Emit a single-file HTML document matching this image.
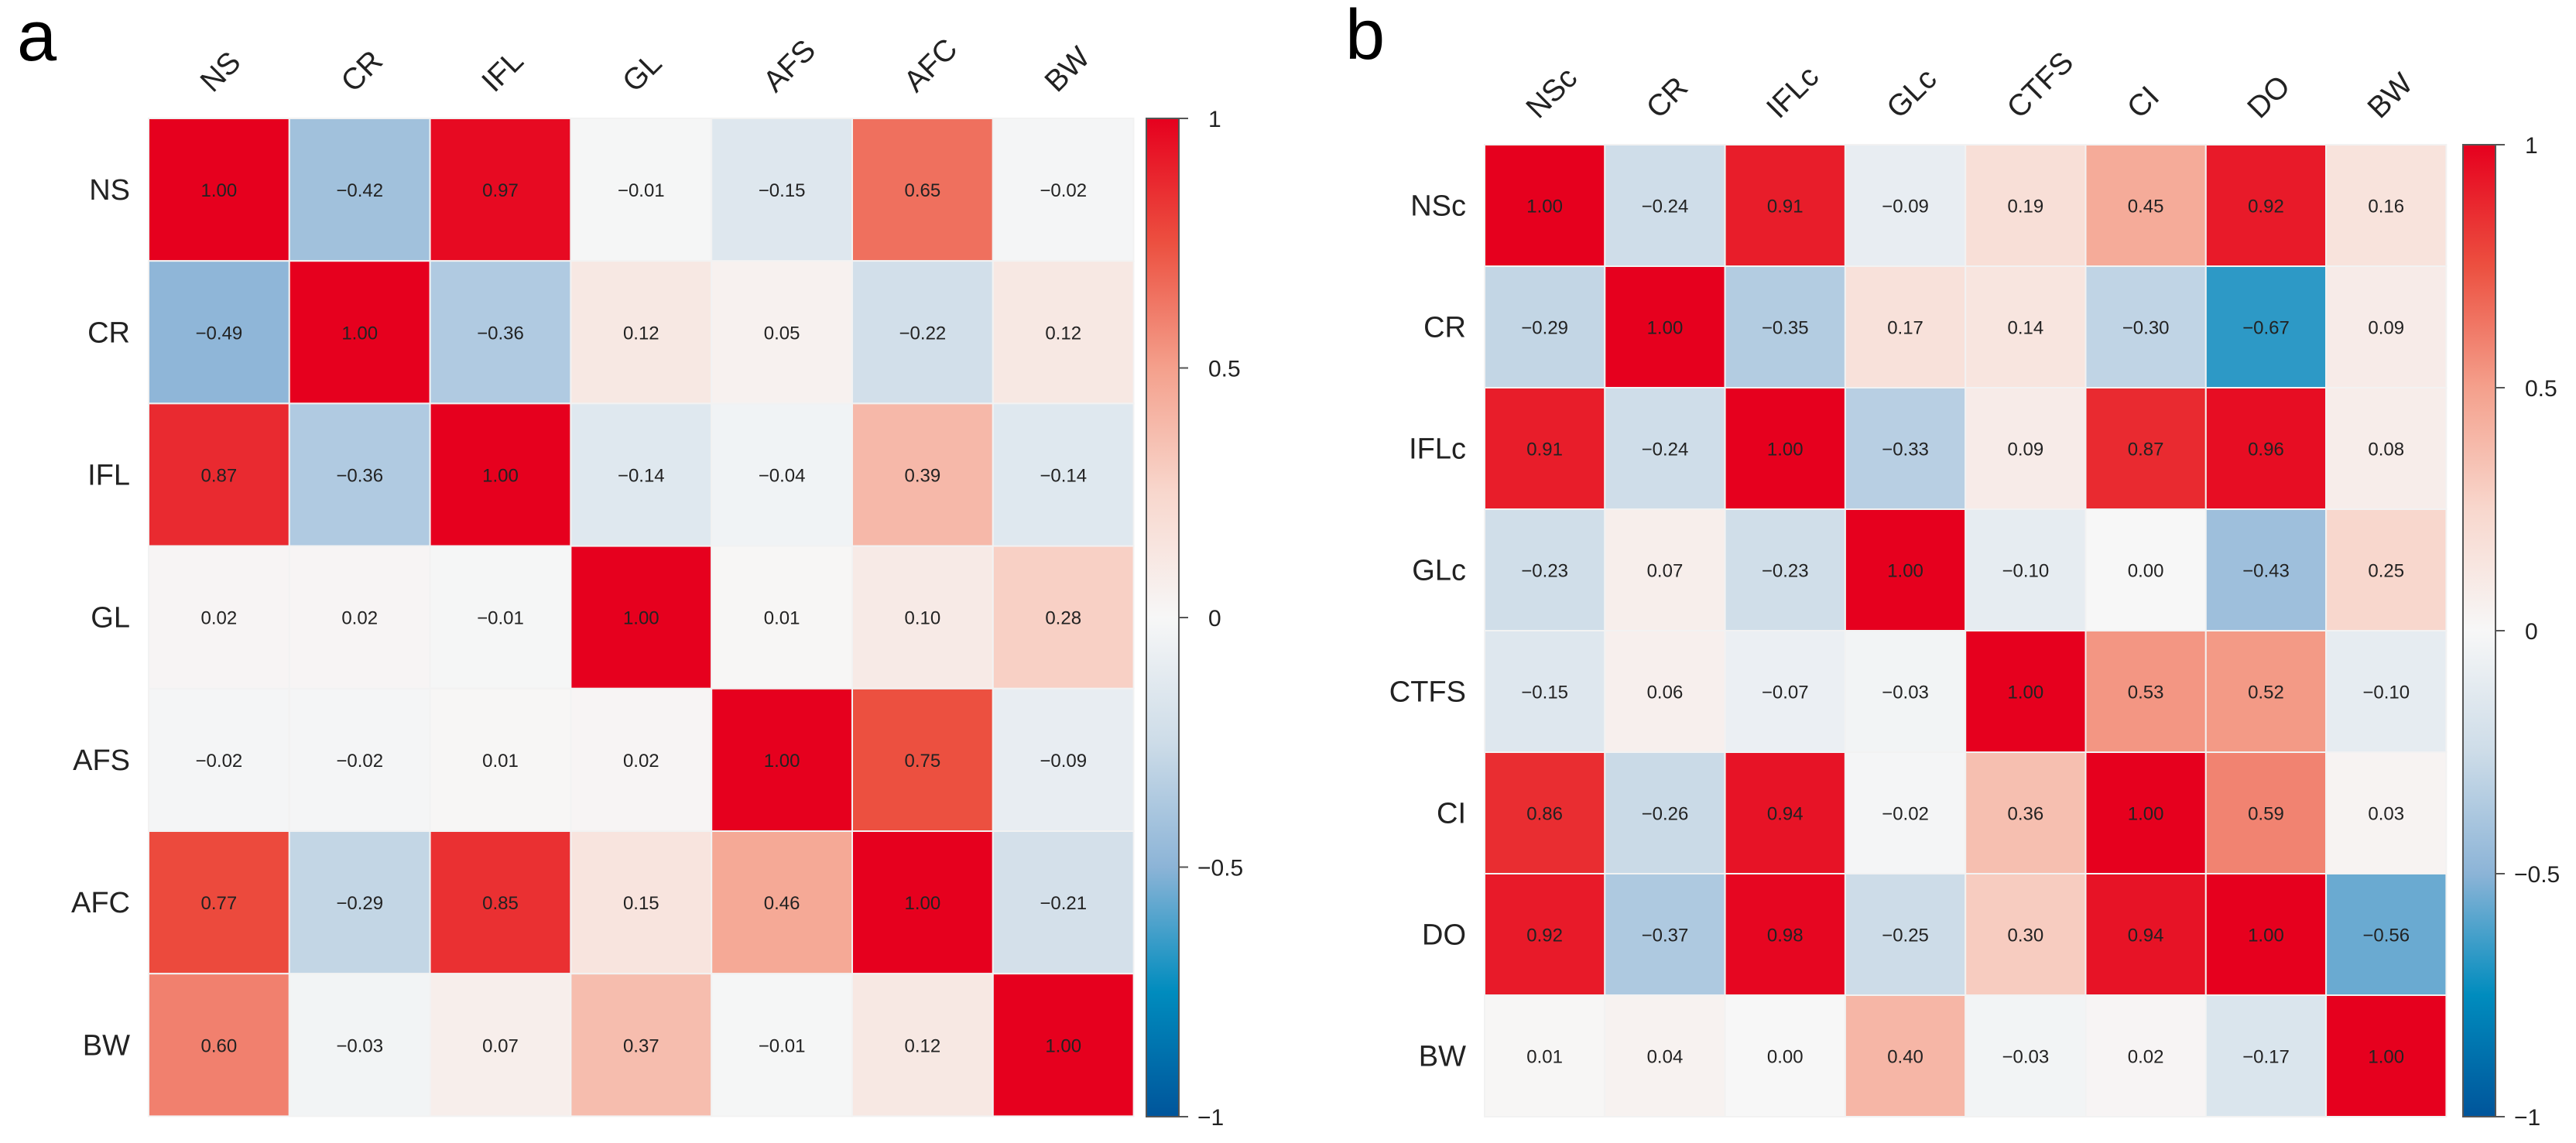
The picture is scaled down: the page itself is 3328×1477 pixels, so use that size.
<!DOCTYPE html>
<html><head><meta charset="utf-8"><style>
html,body{margin:0;padding:0;background:#fff}
svg{display:block}
text{font-family:"Liberation Sans",Arial,sans-serif}
</style></head><body>
<svg id="fig" width="3328" height="1477" viewBox="0 0 3328 1477" xmlns="http://www.w3.org/2000/svg">
<defs>
<linearGradient id="cbgrad" x1="0" y1="0" x2="0" y2="1">
<stop offset="0" stop-color="rgb(230,0,30)"/>
<stop offset="0.125" stop-color="rgb(236,80,64)"/>
<stop offset="0.25" stop-color="rgb(244,160,140)"/>
<stop offset="0.375" stop-color="rgb(248,215,205)"/>
<stop offset="0.5" stop-color="rgb(247,247,247)"/>
<stop offset="0.625" stop-color="rgb(205,220,232)"/>
<stop offset="0.75" stop-color="rgb(140,180,215)"/>
<stop offset="0.875" stop-color="rgb(0,140,190)"/>
<stop offset="1" stop-color="rgb(0,85,155)"/>
</linearGradient>
</defs>
<text x="22" y="78" font-size="92">a</text>
<text x="1738" y="76" font-size="92">b</text>
<g id="pa"></g>
<g id="pb"></g>
</svg>
<script>
const labelsA = ["NS","CR","IFL","GL","AFS","AFC","BW"];
const valuesA = [
 [1.00,-0.42,0.97,-0.01,-0.15,0.65,-0.02],
 [-0.49,1.00,-0.36,0.12,0.05,-0.22,0.12],
 [0.87,-0.36,1.00,-0.14,-0.04,0.39,-0.14],
 [0.02,0.02,-0.01,1.00,0.01,0.10,0.28],
 [-0.02,-0.02,0.01,0.02,1.00,0.75,-0.09],
 [0.77,-0.29,0.85,0.15,0.46,1.00,-0.21],
 [0.60,-0.03,0.07,0.37,-0.01,0.12,1.00]
];
const labelsB = ["NSc","CR","IFLc","GLc","CTFS","CI","DO","BW"];
const valuesB = [
 [1.00,-0.24,0.91,-0.09,0.19,0.45,0.92,0.16],
 [-0.29,1.00,-0.35,0.17,0.14,-0.30,-0.67,0.09],
 [0.91,-0.24,1.00,-0.33,0.09,0.87,0.96,0.08],
 [-0.23,0.07,-0.23,1.00,-0.10,0.00,-0.43,0.25],
 [-0.15,0.06,-0.07,-0.03,1.00,0.53,0.52,-0.10],
 [0.86,-0.26,0.94,-0.02,0.36,1.00,0.59,0.03],
 [0.92,-0.37,0.98,-0.25,0.30,0.94,1.00,-0.56],
 [0.01,0.04,0.00,0.40,-0.03,0.02,-0.17,1.00]
];
const cbTicks = [1,0.5,0,-0.5,-1];
const cbTickLabels = ["1","0.5","0","\u22120.5","\u22121"];

const stops=[[1,[230,0,30]],[0.75,[236,80,64]],[0.5,[244,160,140]],[0.25,[248,215,205]],[0,[247,247,247]],[-0.25,[205,220,232]],[-0.5,[140,180,215]],[-0.75,[0,140,190]],[-1,[0,85,155]]];
function color(v){
  v=Math.max(-1,Math.min(1,v));
  for(let i=0;i<stops.length-1;i++){
    const [a,ca]=stops[i],[b,cb]=stops[i+1];
    if(v<=a&&v>=b){const t=(a-v)/(a-b);
      return "rgb("+ca.map((c,k)=>Math.round(c+(cb[k]-c)*t)).join(",")+")";}
  }
  return "rgb(247,247,247)";
}
const NS="http://www.w3.org/2000/svg";
function mk(tag,attrs,parent){const e=document.createElementNS(NS,tag);for(const k in attrs)e.setAttribute(k,attrs[k]);parent.appendChild(e);return e;}
function fmt(v){return (v<0?"\u2212":"")+Math.abs(v).toFixed(2);}

function draw(g,labels,vals,x0,y0,cw,ch,cbx,cbTop,cbBot){
  const n=labels.length;
  const xs=i=>x0+i*cw, ys=j=>y0+j*ch;
  for(let r=0;r<n;r++){
    const rl=mk("text",{x:x0-24,y:ys(r)+ch/2+13,"font-size":38,"text-anchor":"end",fill:"#222"},g);
    rl.textContent=labels[r];
    
    
    const cx=xs(r)+cw/2-8, cy=y0-32;
    const cl=mk("text",{x:cx,y:cy,"font-size":39,fill:"#222",transform:"rotate(-45 "+cx+" "+cy+")"},g);
    cl.textContent=labels[r];
    
    
    for(let c=0;c<n;c++){
      const v=vals[r][c];
      const rc=mk("rect",{x:xs(c),y:ys(r),width:cw,height:ch,fill:color(v),stroke:"#f2f2f2","stroke-width":2},g);
      
      
      const t=mk("text",{x:xs(c)+cw/2,y:ys(r)+ch/2+9,"font-size":24,"text-anchor":"middle",fill:"#222"},g);
      t.textContent=fmt(v);
      
      
    }
  }
  const cb=mk("rect",{x:cbx,y:cbTop,width:42,height:cbBot-cbTop,fill:"url(#cbgrad)",stroke:"#555","stroke-width":2},g);
  
  
  const cy=v=>cbTop+(1-v)/2*(cbBot-cbTop);
  cbTicks.forEach((v,i)=>{
    const tk=mk("line",{x1:cbx+42,x2:cbx+54,y1:cy(v),y2:cy(v),stroke:"#555","stroke-width":2},g);
    
    
    const tl=mk("text",{x:cbx+(v<0?66:80),y:cy(v)+11,"font-size":30,fill:"#222"},g);
    tl.textContent=cbTickLabels[i];
    
    
  });
}
draw(document.getElementById("pa"),labelsA,valuesA,192,153,181.8,184.2,1481,153,1443);
draw(document.getElementById("pb"),labelsB,valuesB,1918,187,155.3,157,3182,187,1443);
</script>
</body></html>
